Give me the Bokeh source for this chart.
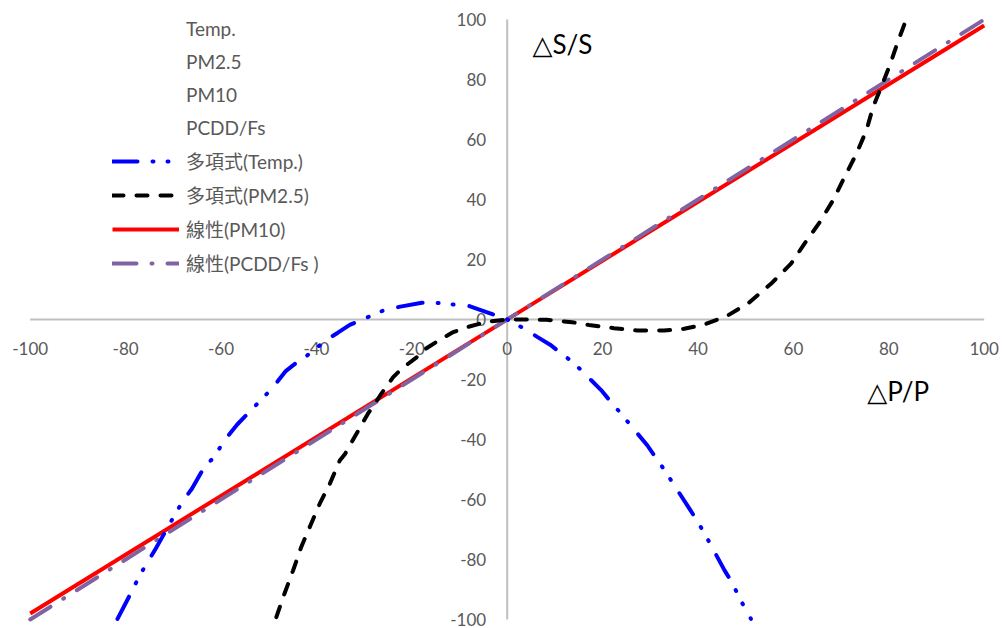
from bokeh.plotting import figure
from bokeh.models import Legend, LegendItem, Label
from bokeh.core.properties import value
from bokeh.embed import file_html
from bokeh.resources import INLINE

# ---------------- data ----------------
x_ticks = [-100, -80, -60, -40, -20, 0, 20, 40, 60, 80, 100]
y_ticks = [100, 80, 60, 40, 20, 0, -20, -40, -60, -80, -100]

series_names = ["Temp.", "PM2.5", "PM10", "PCDD/Fs"]
trend_names = ["多項式(Temp.)", "多項式(PM2.5)", "線性(PM10)", "線性(PCDD/Fs )"]

# polynomial trendline of Temp.
temp_x = [-81.7, -78.6, -77.0, -75.3, -73.7, -71.2, -69.5, -67.9, -66.1, -63.5,
          -61.4, -59.3, -56.6, -54.4, -51.9, -49.1, -46.5, -44.2, -42.1, -37.9,
          -35.5, -33.0, -30.1, -26.1, -22.4, -17.9, -14.3, -11.5, -8.4, -4.2,
          0.0, 1.2, 3.8, 6.2, 9.0, 12.9, 15.4, 19.9, 21.9, 23.9, 25.9, 29.4,
          31.1, 32.9, 34.6, 38.3, 39.9, 41.5, 43.0, 45.6, 47.3, 48.6, 51.1]
temp_y = [-99.8, -90.3, -85.1, -80.7, -76.4, -69.4, -64.6, -60.3, -56.4, -49.2,
          -45.8, -40.3, -35.0, -31.4, -27.3, -22.6, -17.3, -14.4, -12.2, -6.8,
          -4.4, -1.8, 0.2, 2.9, 4.3, 5.6, 5.5, 5.0, 4.7, 2.4,
          0.0, -0.9, -3.3, -5.7, -8.4, -13.2, -16.7, -23.9, -27.8, -31.4, -35.3, -42.0,
          -46.0, -50.0, -54.2, -63.3, -67.3, -71.7, -76.1, -83.7, -88.1, -92.6, -99.8]

# polynomial trendline of PM2.5
pm25_x = [-48.4, -46.7, -44.9, -43.2, -41.1, -39.3, -37.2, -35.1, -34.0, -31.6,
          -29.2, -26.4, -23.9, -22.1, -19.0, -17.6, -14.4, -11.3, -8.5, -4.4,
          0.0, 2.0, 8.3, 13.6, 17.1, 22.4, 27.3, 32.9, 37.1, 41.3, 46.2, 50.6,
          55.3, 59.5, 62.3, 65.5, 68.3, 70.7, 73.2, 75.3, 76.7, 78.4, 80.2, 82.0, 83.7]
pm25_y = [-99.2, -91.4, -83.7, -75.9, -68.1, -61.4, -54.8, -47.0, -44.8, -38.1,
          -31.4, -24.8, -19.2, -16.4, -12.6, -10.3, -7.0, -4.2, -2.6, -0.8,
          0.0, 0.0, -0.1, -0.9, -1.8, -2.9, -3.7, -3.7, -3.1, -1.7, 1.3, 5.5,
          11.9, 18.6, 25.2, 32.4, 39.7, 47.4, 55.2, 63.0, 70.8, 77.4, 84.7, 93.0, 100.2]

# linear trendlines
pm10_x = [-100, 100]
pm10_y = [-98.0, 98.0]
pcdd_x = [-100, 100]
pcdd_y = [-100.0, 100.0]

# ---------------- figure ----------------
p = figure(width=1005, height=628,
           x_range=(-106.23, 104.47), y_range=(-103.0, 106.33),
           x_axis_type=None, y_axis_type=None,
           output_backend="svg", toolbar_location=None, title=None,
           min_border_left=0, min_border_right=0, min_border_top=0, min_border_bottom=0)
p.outline_line_color = None
p.background_fill_color = "white"
p.border_fill_color = "white"

axis_col = "#BFBFBF"
# axis lines crossing at zero
p.segment(x0=[x_ticks[0], 0], y0=[0, y_ticks[-1]], x1=[x_ticks[-1], 0], y1=[0, y_ticks[0]],
          line_color=axis_col, line_width=2)

tick_font = value("Lato")
p.text(x=x_ticks, y=[0] * len(x_ticks), text=[str(t) for t in x_ticks],
       text_align="center", text_baseline="middle", y_offset=29,
       text_font=tick_font, text_font_size="17px", text_color="#595959")
p.text(x=[0] * len(y_ticks), y=y_ticks, text=[str(t) for t in y_ticks],
       text_align="right", text_baseline="middle", x_offset=-21,
       text_font=tick_font, text_font_size="17px", text_color="#595959")

# hidden original series (only legend entries visible)
hidden = [p.line(x=[], y=[], line_alpha=0) for _ in series_names]

r_pm10 = p.line(pm10_x, pm10_y, line_color="#FF0000", line_width=4)
r_pcdd = p.line(pcdd_x, pcdd_y, line_color="#8064A2", line_width=4,
                line_dash="24 15 1 15", line_cap="round")
r_pm25 = p.line(pm25_x, pm25_y, line_color="#000000", line_width=4,
                line_dash="11 13", line_cap="round")
r_temp = p.line(temp_x, temp_y, line_color="#0000FF", line_width=4,
                line_dash="25 15 1 14 1 16", line_cap="round")

items = [LegendItem(label=n, renderers=[r]) for n, r in zip(series_names, hidden)]
items += [LegendItem(label=trend_names[0], renderers=[r_temp]),
          LegendItem(label=trend_names[1], renderers=[r_pm25]),
          LegendItem(label=trend_names[2], renderers=[r_pm10]),
          LegendItem(label=trend_names[3], renderers=[r_pcdd])]

legend = Legend(items=items, location=(112, 352),
                glyph_width=67, glyph_height=26, label_height=26, spacing=7,
                label_standoff=7, padding=0, margin=0,
                border_line_color=None, background_fill_alpha=0,
                label_text_font="Lato, 'Noto Sans CJK TC'", label_text_font_size="19px",
                label_text_color="#595959")
p.add_layout(legend)

title_font = "Lato, 'DejaVu Sans'"
p.add_layout(Label(x=5.3, y=91.7, text="△S/S", text_baseline="middle",
                   text_font=title_font, text_font_size="26px", text_color="#000000"))
p.add_layout(Label(x=75.5, y=-23.7, text="△P/P", text_baseline="middle",
                   text_font=title_font, text_font_size="26px", text_color="#000000"))

open("out.html", "w").write(file_html(p, INLINE))
